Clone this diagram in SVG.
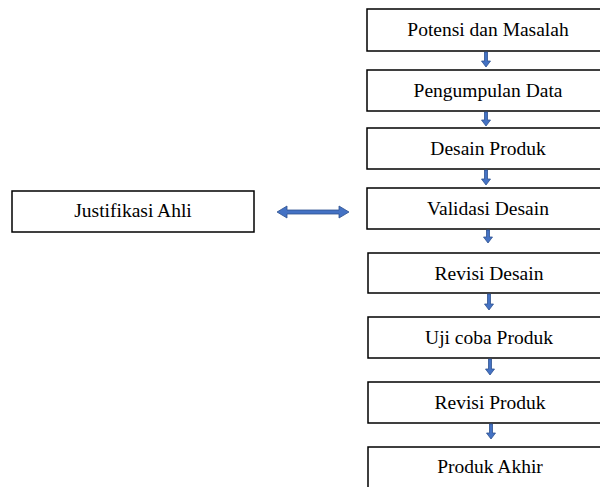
<svg xmlns="http://www.w3.org/2000/svg" width="600" height="487" viewBox="0 0 600 487">
<style>
.box{fill:#fff;stroke:#000;stroke-width:1.5}
.t{font-family:"Liberation Serif","Times New Roman",serif;font-size:19.5px;fill:#000;text-anchor:middle}
.arr{fill:#4472C4;stroke:#2F528F;stroke-width:0.8}
</style>
<rect width="600" height="487" fill="#fff"/>
<g id="n1"><rect class="box" x="367" y="9" width="242" height="42"/><text class="t" x="488" y="36">Potensi dan Masalah</text></g>
<g id="n2"><rect class="box" x="367" y="70" width="242" height="41"/><text class="t" x="488" y="97">Pengumpulan Data</text></g>
<g id="n3"><rect class="box" x="367" y="128" width="242" height="41"/><text class="t" x="488" y="155">Desain Produk</text></g>
<g id="n4"><rect class="box" x="367" y="188" width="242" height="41"/><text class="t" x="488" y="215">Validasi Desain</text></g>
<g id="n5"><rect class="box" x="368" y="253" width="242" height="40"/><text class="t" x="489" y="280">Revisi Desain</text></g>
<g id="n6"><rect class="box" x="368" y="317" width="242" height="41"/><text class="t" x="489" y="344">Uji coba Produk</text></g>
<g id="n7"><rect class="box" x="368" y="382" width="242" height="41"/><text class="t" x="490" y="409">Revisi Produk</text></g>
<g id="n8"><rect class="box" x="368" y="447" width="242" height="45"/><text class="t" x="490" y="473">Produk Akhir</text></g>
<g id="j"><rect class="box" x="12" y="191" width="242" height="41"/><text class="t" x="133" y="217">Justifikasi Ahli</text></g>
<g id="connectors">
<path class="arr" d="M484.5 52 h3 v9 h3 l-4.5 6 l-4.5 -6 h3 z"/>
<path class="arr" d="M484.5 112 h3 v8 h3 l-4.5 6 l-4.5 -6 h3 z"/>
<path class="arr" d="M484.5 170 h3 v9 h3 l-4.5 6 l-4.5 -6 h3 z"/>
<path class="arr" d="M486.5 230 h3 v7 h3 l-4.5 6 l-4.5 -6 h3 z"/>
<path class="arr" d="M487.5 294 h3 v10 h3 l-4.5 6 l-4.5 -6 h3 z"/>
<path class="arr" d="M488.5 359 h3 v10 h3 l-4.5 6 l-4.5 -6 h3 z"/>
<path class="arr" d="M489.5 424 h3 v9 h3 l-4.5 6 l-4.5 -6 h3 z"/>
<path class="arr" d="M277 212 l10 -6 v4 h52 v-4 l10 6 l-10 6 v-4 h-52 v4 z"/>
</g>
</svg>
